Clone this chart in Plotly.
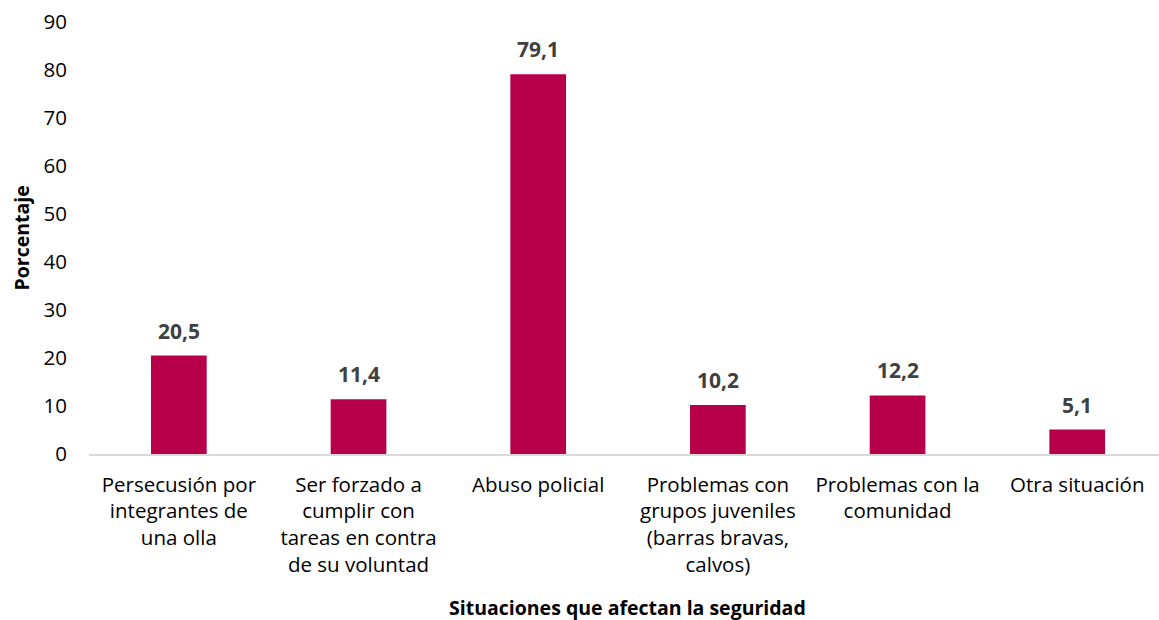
import plotly.graph_objects as go

categories = [
    "Persecusión por<br>integrantes de<br>una olla",
    "Ser forzado a<br>cumplir con<br>tareas en contra<br>de su voluntad",
    "Abuso policial",
    "Problemas con<br>grupos juveniles<br>(barras bravas,<br>calvos)",
    "Problemas con la<br>comunidad",
    "Otra situación",
]
values = [20.5, 11.4, 79.1, 10.2, 12.2, 5.1]
y_ticks = [0, 10, 20, 30, 40, 50, 60, 70, 80, 90]

FONT = "Open Sans"
BAR = "#B8004A"

fig = go.Figure(
    go.Bar(
        x=list(range(len(categories))),
        y=values,
        marker=dict(color=BAR, line=dict(width=0)),
        width=0.31,
    )
)

for i, v in enumerate(values):
    fig.add_annotation(
        x=i, y=v, xref="x", yref="y",
        text="<b>" + f"{v:.1f}".replace(".", ",") + "</b>",
        showarrow=False, yanchor="bottom", yshift=9,
        font=dict(family=FONT, size=21, color="#404040"),
    )

fig.add_annotation(
    x=-0.064, y=0.5, xref="paper", yref="paper",
    text="<b>Porcentaje</b>", textangle=-90, showarrow=False,
    xanchor="center", yanchor="middle",
    font=dict(family=FONT, size=19.5, color="#000000"),
)
fig.add_annotation(
    x=0.503, y=-0.355, xref="paper", yref="paper",
    text="<b>Situaciones que afectan la seguridad</b>", showarrow=False,
    xanchor="center", yanchor="middle",
    font=dict(family=FONT, size=19.5, color="#000000"),
)

fig.update_layout(
    width=1159, height=620,
    margin=dict(l=89, r=0, t=22, b=166),
    paper_bgcolor="white", plot_bgcolor="white",
    showlegend=False,
    hovermode=False,
    font=dict(family=FONT, size=20, color="#000000"),
    xaxis=dict(
        tickmode="array",
        tickvals=list(range(len(categories))),
        ticktext=categories,
        range=[-0.5, 5.455],
        automargin=False,
        showline=True, linecolor="#D9D9D9", linewidth=2,
        showgrid=False, zeroline=False, ticks="",
        tickangle=0,
        ticklabelstandoff=11,
        tickfont=dict(family=FONT, size=20.5, color="#000000"),
    ),
    yaxis=dict(
        range=[0, 90],
        tickmode="array", tickvals=y_ticks,
        automargin=False,
        showline=False, showgrid=False, zeroline=False, ticks="",
        ticklabelstandoff=21,
        tickfont=dict(family=FONT, size=20.5, color="#000000"),
    ),
)

fig.write_html(
    "out.html",
    config={"displayModeBar": False},
    post_script="document.body.style.margin='0';document.body.style.overflow='hidden';",
)
